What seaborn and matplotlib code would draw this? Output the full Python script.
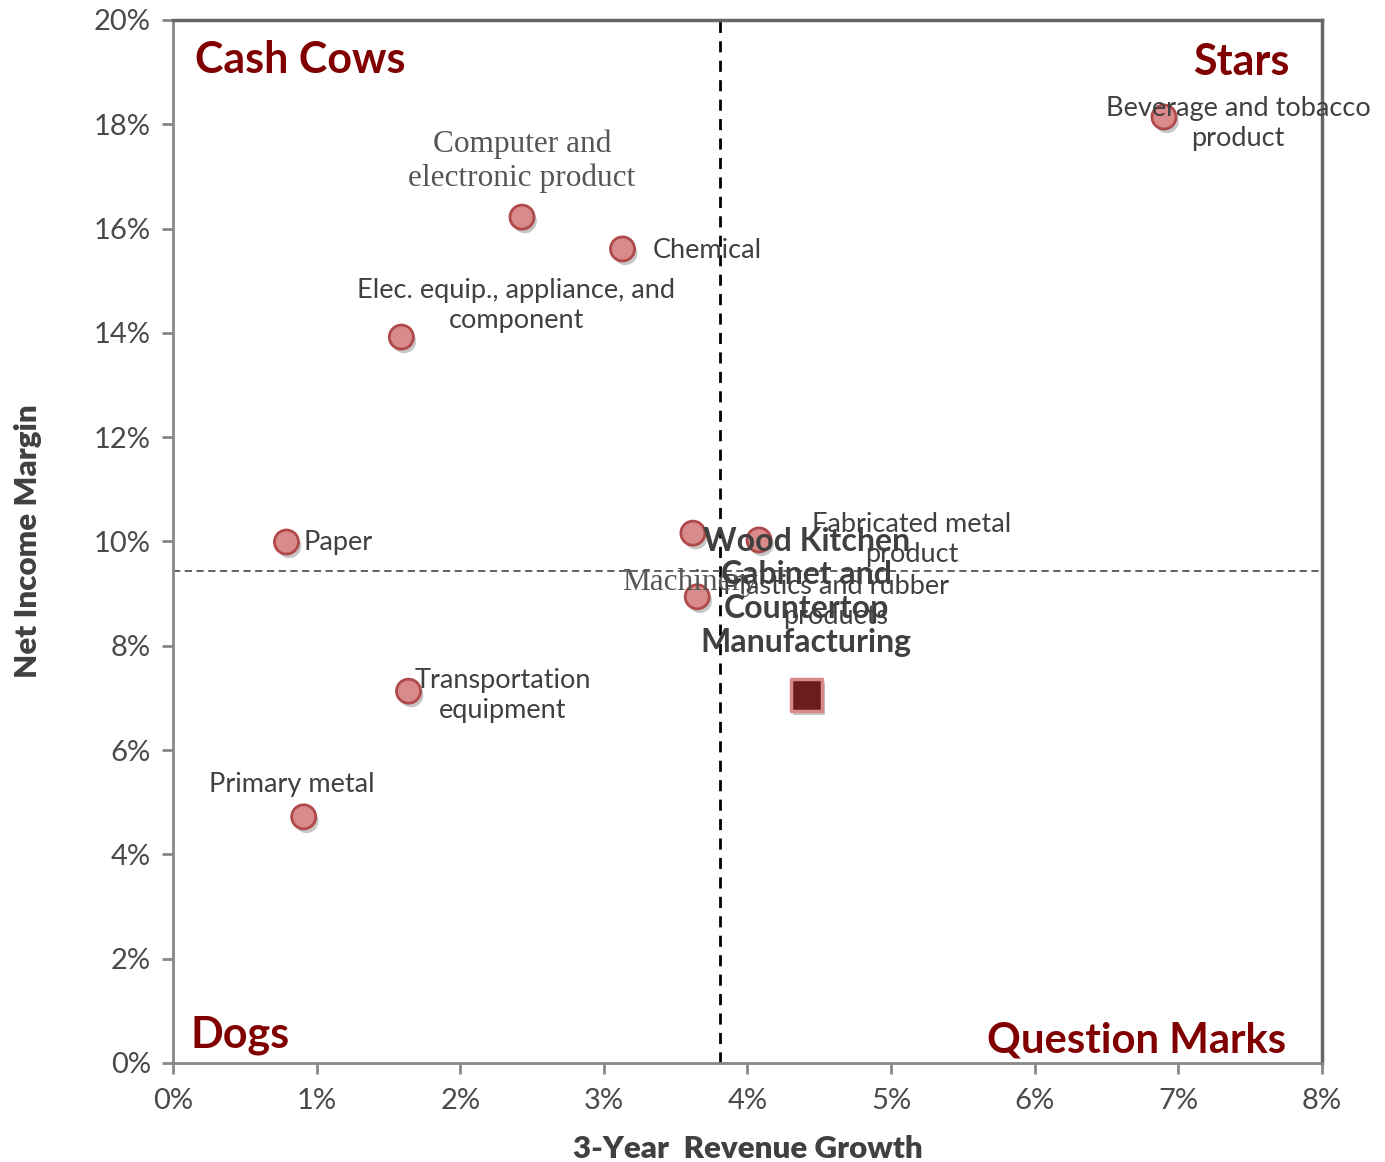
import numpy as np
import pandas as pd
import matplotlib
matplotlib.use("Agg")
import matplotlib.pyplot as plt
import matplotlib.patheffects as pe
from matplotlib.ticker import FuncFormatter, MultipleLocator
import seaborn as sns

# industries (growth %, net margin %)
industries = ["Beverage and tobacco\nproduct", "Computer and\nelectronic product", "Chemical",
              "Elec. equip., appliance, and\ncomponent", "Paper", "Fabricated metal\nproduct",
              "Plastics and rubber\nproducts", "Machinery", "Transportation\nequipment", "Primary metal"]
growth = [6.90, 2.43, 3.13, 1.59, 0.79, 4.08, 3.62, 3.65, 1.64, 0.91]
margin = [18.14, 16.22, 15.61, 13.92, 9.99, 10.03, 10.16, 8.94, 7.13, 4.72]
# label offsets in pixels and alignment
label_dx = [74, 0, 30, 115, 17, 153, 143, -7, 94, -12]
label_dy = [-7, 56, -2, 32, 0, 0, -68, 14, -4, 32]
label_ha = ["center", "center", "left", "center", "left", "center", "center", "center", "center", "center"]
serif_labels = ["Computer and\nelectronic product", "Machinery"]

company = "Wood Kitchen\nCabinet and\nCountertop\nManufacturing"
company_growth = [4.41]
company_margin = [7.06]

avg_growth = 3.81
avg_margin = 9.43

quadrants = ["Cash Cows", "Stars", "Dogs", "Question Marks"]

sns.set_style("white")
plt.rcParams["font.family"] = ["Lato", "DejaVu Sans"]

df = pd.DataFrame({"industry": industries, "growth": growth, "margin": margin})
comp = pd.DataFrame({"growth": company_growth, "margin": company_margin})

fig, ax = plt.subplots(figsize=(13.85, 11.62), dpi=100)
fig.subplots_adjust(left=0.1249, right=0.9545, top=0.9828, bottom=0.0852)

shadow = [pe.SimplePatchShadow(offset=(2, -3), alpha=0.3, shadow_rgbFace="#444444"), pe.Normal()]

ax.axvline(avg_growth, color="black", linestyle=(0, (4, 3)), linewidth=2, zorder=1)
ax.axhline(avg_margin, color="#555555", linestyle=(0, (4, 2.5)), linewidth=1.3, zorder=1)

sns.scatterplot(data=df, x="growth", y="margin", ax=ax, s=300, marker="o",
                color="#d98b8b", edgecolor="#b04a4a", linewidth=2, zorder=3)
ax.collections[-1].set_path_effects(shadow)
sns.scatterplot(data=comp, x="growth", y="margin", ax=ax, s=520, marker="s",
                color="#6b1c1c", edgecolor="#d88a8a", linewidth=2.5, zorder=3)
ax.collections[-1].set_path_effects(shadow)

for name, gx, my, dx, dy, ha in zip(industries, growth, margin, label_dx, label_dy, label_ha):
    if name in serif_labels:
        kw = dict(family=["Liberation Serif", "DejaVu Serif"], fontsize=22.5, color="#555555",
                  linespacing=1.2)
    else:
        kw = dict(fontsize=19.5, color="#404040", linespacing=1.25)
    ax.annotate(name, (gx, my), xytext=(dx, dy), textcoords="offset pixels",
                ha=ha, va="center", multialignment="center", zorder=4, **kw)

ax.annotate(company, (company_growth[0], company_margin[0]), xytext=(0, 103),
            textcoords="offset pixels", ha="center", va="center", fontsize=23,
            fontweight="bold", color="#404040", linespacing=1.2, zorder=5)

qcol = "#800000"
ax.text(0.019, 0.962, quadrants[0], transform=ax.transAxes, ha="left", va="center",
        fontsize=31, fontweight="bold", color=qcol)
ax.text(0.972, 0.960, quadrants[1], transform=ax.transAxes, ha="right", va="center",
        fontsize=31, fontweight="bold", color=qcol)
ax.text(0.015, 0.027, quadrants[2], transform=ax.transAxes, ha="left", va="center",
        fontsize=31, fontweight="bold", color=qcol)
ax.text(0.969, 0.022, quadrants[3], transform=ax.transAxes, ha="right", va="center",
        fontsize=30.2, fontweight="bold", color=qcol)

ax.set_xlim(0, 8)
ax.set_ylim(0, 20)
ax.xaxis.set_major_locator(MultipleLocator(1))
ax.yaxis.set_major_locator(MultipleLocator(2))
pct = FuncFormatter(lambda v, p: f"{v:.0f}%")
ax.xaxis.set_major_formatter(pct)
ax.yaxis.set_major_formatter(pct)
ax.tick_params(axis="both", which="major", labelsize=21, labelcolor="#4a4a4a",
               color="#888888", length=8, width=2, direction="out")
ax.tick_params(axis="x", pad=10)
ax.tick_params(axis="y", pad=8)
ax.tick_params(bottom=True, left=True)

ax.set_xlabel("3-Year  Revenue Growth", fontsize=22.5, fontweight="heavy", color="#404040", labelpad=15)
ax.set_ylabel("Net Income Margin", fontsize=22.5, fontweight="heavy", color="#404040", labelpad=37)

for side in ["left", "bottom"]:
    ax.spines[side].set_color("#888888")
    ax.spines[side].set_linewidth(2)
for side in ["top", "right"]:
    ax.spines[side].set_color("#666666")
    ax.spines[side].set_linewidth(2.5)

fig.savefig("out.png", dpi=100)
